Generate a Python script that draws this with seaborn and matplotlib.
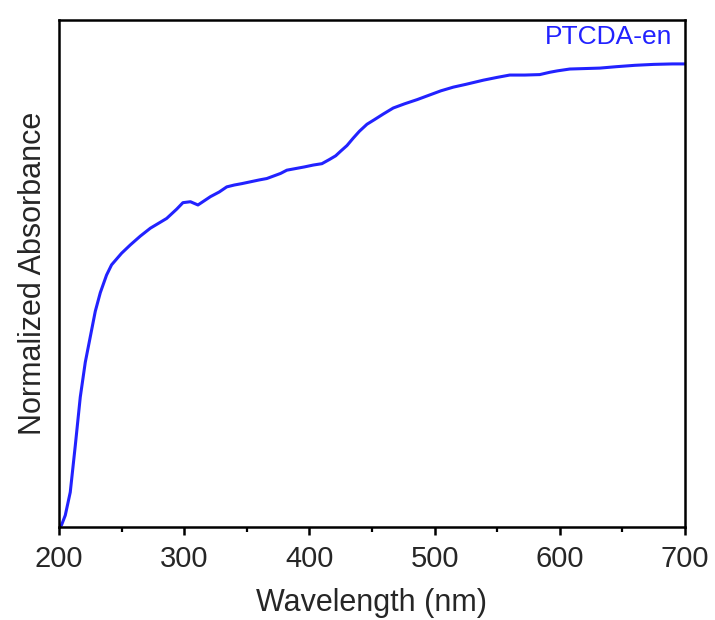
import matplotlib
matplotlib.use("Agg")
import matplotlib.pyplot as plt
from matplotlib.ticker import MultipleLocator
import pandas as pd
import seaborn as sns

# PTCDA-en absorbance spectrum (normalized)
wavelength = [200, 202, 205, 209, 213, 217, 221, 225, 229, 233, 238, 242, 250, 257,
              265, 273, 286, 294, 299, 305, 311, 316, 321, 328, 334, 340, 346, 353,
              360, 366, 372, 377, 382, 390, 396, 403, 410, 416, 421, 425, 430, 435,
              440, 446, 452, 459, 467, 476, 486, 495, 505, 515, 525, 539, 550, 560,
              572, 584, 592, 598, 608, 620, 632, 645, 660, 675, 690, 700]
absorbance = [0.000, 0.004, 0.025, 0.075, 0.175, 0.280, 0.355, 0.410, 0.465, 0.505,
              0.543, 0.565, 0.590, 0.608, 0.627, 0.644, 0.665, 0.685, 0.699, 0.701,
              0.694, 0.703, 0.712, 0.722, 0.733, 0.737, 0.740, 0.744, 0.748, 0.751,
              0.757, 0.762, 0.769, 0.773, 0.776, 0.780, 0.783, 0.792, 0.800, 0.810,
              0.822, 0.838, 0.853, 0.868, 0.878, 0.890, 0.903, 0.912, 0.921, 0.930,
              0.940, 0.948, 0.954, 0.963, 0.969, 0.974, 0.974, 0.975, 0.980, 0.983,
              0.987, 0.988, 0.989, 0.992, 0.995, 0.997, 0.998, 0.998]
series_name = "PTCDA-en"
x_ticks = [200, 300, 400, 500, 600, 700]

df = pd.DataFrame({"Wavelength": wavelength, "Absorbance": absorbance})

sns.set_theme(style="white")
plt.rcParams["font.family"] = ["Liberation Sans", "DejaVu Sans"]

line_color = "#2222ff"
text_color = "#262626"

fig = plt.figure(figsize=(7.15, 6.2), dpi=100)
ax = fig.add_axes([0.0825, 0.15, 0.8755, 0.818])

sns.lineplot(data=df, x="Wavelength", y="Absorbance", ax=ax,
             color=line_color, linewidth=2.2)

ax.set_xlim(200, 700)
ax.set_ylim(0, 1.093)
ax.set_xticks(x_ticks)
ax.xaxis.set_minor_locator(MultipleLocator(50))
ax.set_yticks([])

ax.tick_params(axis="x", which="major", direction="out", length=6, width=1.8,
               color="black", labelsize=21, labelcolor=text_color, pad=7,
               bottom=True, top=False)
ax.tick_params(axis="x", which="minor", direction="out", length=3.5, width=1.6,
               color="black", bottom=True, top=False)

for spine in ax.spines.values():
    spine.set_visible(True)
    spine.set_color("black")
    spine.set_linewidth(1.8)

ax.set_xlabel("Wavelength (nm)", fontsize=22, color=text_color, labelpad=11)
ax.set_ylabel("Normalized Absorbance", fontsize=22, color=text_color, labelpad=8)

ax.text(0.979, 0.966, series_name, transform=ax.transAxes, color=line_color,
        fontsize=19, ha="right", va="center")

fig.savefig("out.png", dpi=100)
